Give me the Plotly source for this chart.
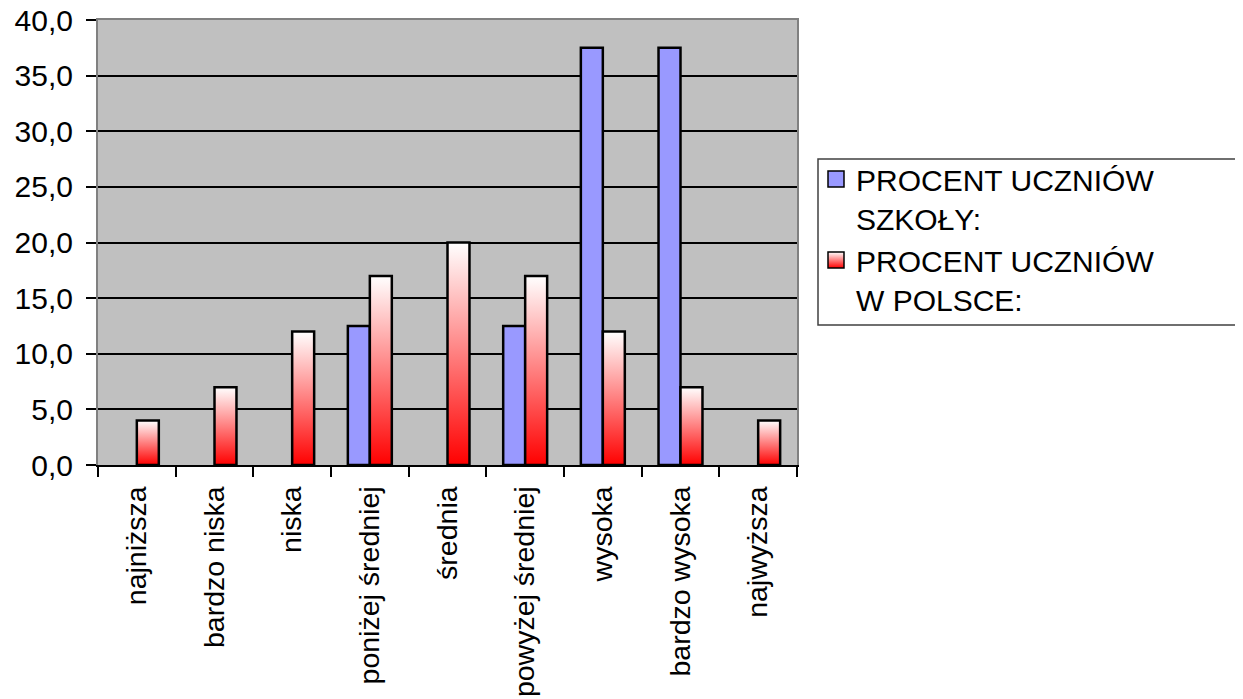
import plotly.graph_objects as go

categories = ["najniższa", "bardzo niska", "niska", "poniżej średniej", "średnia",
              "powyżej średniej", "wysoka", "bardzo wysoka", "najwyższa"]
szkola = [0, 0, 0, 12.5, 0, 12.5, 37.5, 37.5, 0]
polska = [4, 7, 12, 17, 20, 17, 12, 7, 4]
name_szkola = "PROCENT UCZNIÓW<br>SZKOŁY:"
name_polska = "PROCENT UCZNIÓW<br>W POLSCE:"

FONT = "Liberation Sans, Arial, sans-serif"
BW = 0.283  # bar width in category units

fig = go.Figure()

# school series: regular bars on the category axis
fig.add_trace(go.Bar(
    x=categories, y=szkola, name=name_szkola, showlegend=False,
    width=BW, offset=-BW,
    marker=dict(color="#9999FF",
                line=dict(color="black", width=[2.5 if v > 0 else 0 for v in szkola])),
    xaxis="x", yaxis="y",
))

# Poland series: gradient bars drawn as filled polygons on an overlaid numeric axis
for i, v in enumerate(polska):
    fig.add_trace(go.Scatter(
        x=[i, i, i + BW, i + BW, i], y=[0, v, v, 0, 0],
        mode="lines", fill="toself",
        fillgradient=dict(type="vertical", colorscale=[[0, "#FF0000"], [1, "#FFFFFF"]]),
        line=dict(color="black", width=2.5),
        showlegend=False, hovertemplate=f"{categories[i]}: %{{y}}<extra></extra>",
        xaxis="x2", yaxis="y",
    ))

# legend entries
fig.add_trace(go.Scatter(
    x=[None], y=[None], mode="markers", name=name_szkola,
    marker=dict(symbol="square", size=16, color="#9999FF", line=dict(color="black", width=1.5)),
))
fig.add_trace(go.Scatter(
    x=[None], y=[None], mode="markers", name=name_polska,
    marker=dict(symbol="square", size=16, color="#FFFFFF",
                gradient=dict(type="vertical", color="#FF0000"),
                line=dict(color="black", width=1.5)),
))

OFF = 8  # page body margin in the browser
W, H = 1243 - OFF, 699 - OFF
L, T = 98 - OFF, 20 - OFF
PW, PH = 699, 445
BOTTOM = T + PH  # plot bottom in figure px


def px_x(sx):
    return (sx - OFF - L) / PW


def px_y(sy):
    return (BOTTOM - (sy - OFF)) / PH


fig.update_layout(
    width=W, height=H,
    margin=dict(l=L, r=W - L - PW, t=T, b=H - T - PH, pad=0, autoexpand=False),
    paper_bgcolor="white", plot_bgcolor="#C0C0C0",
    font=dict(family=FONT, size=29, color="black"),
    separators=", ",
    showlegend=True,
    legend=dict(
        x=px_x(816), xanchor="left", y=px_y(153), yanchor="top", valign="top",
        font=dict(size=30, family=FONT, color="black"),
        bgcolor="rgba(0,0,0,0)", borderwidth=0,
    ),
    xaxis=dict(
        type="category", categoryorder="array", categoryarray=categories,
        range=[-0.5, 8.5], tickson="boundaries", ticks="outside", ticklen=10,
        tickcolor="black", tickwidth=1.5, tickangle=-90,
        showline=True, linecolor="black", linewidth=2,
        showgrid=False, zeroline=False, ticklabelstandoff=8, automargin=False,
        ticklabeloverflow="allow", tickfont=dict(size=28.5),
    ),
    xaxis2=dict(
        overlaying="x", side="top", range=[-0.5, 8.5], showticklabels=False,
        ticks="", showgrid=False, zeroline=False, automargin=False,
        showline=True, linecolor="#808080", linewidth=2,
    ),
    yaxis=dict(
        range=[0, 40], dtick=5, tickformat=".1f",
        ticks="outside", ticklen=10, tickcolor="black", tickwidth=1.5,
        showgrid=True, gridcolor="black", gridwidth=1.5,
        showline=True, linecolor="#808080", linewidth=2, mirror=True,
        zeroline=False, ticklabelstandoff=7, automargin=False,
        ticklabeloverflow="allow", tickfont=dict(size=30),
    ),
    shapes=[dict(
        type="rect", xref="paper", yref="paper",
        x0=px_x(818), x1=px_x(1241), y0=px_y(325), y1=px_y(159),
        line=dict(color="#404040", width=1.5), fillcolor="rgba(0,0,0,0)",
    )],
)

fig.write_html("out.html")
